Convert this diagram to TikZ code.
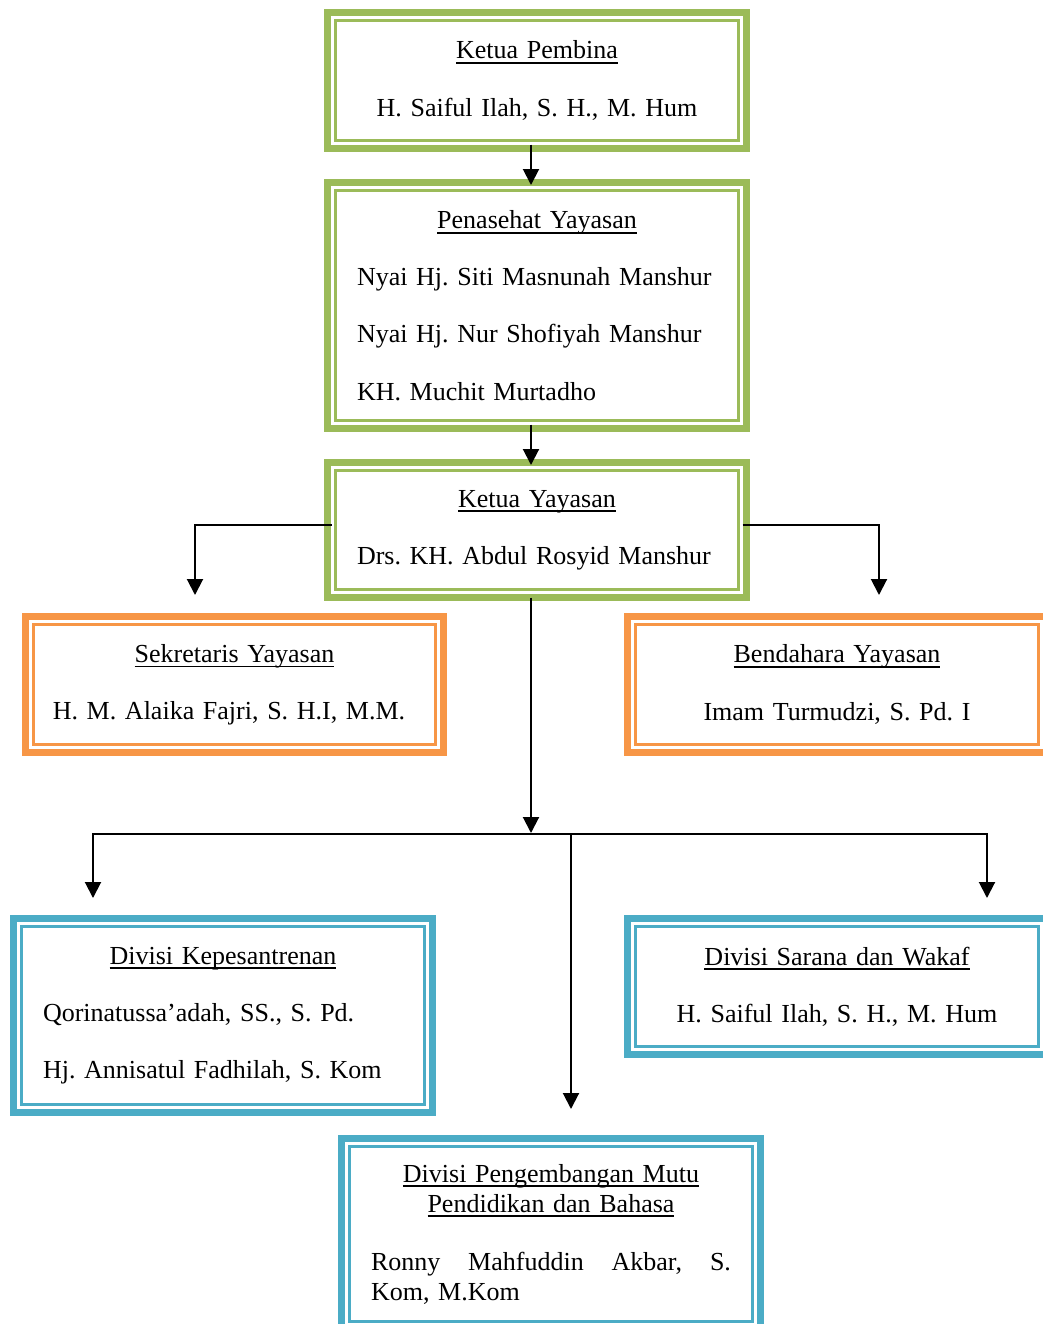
\documentclass[tikz,border=0pt]{standalone}
\usepackage{fontspec}
\setmainfont{Liberation Serif}
\usetikzlibrary{arrows.meta,calc}

\definecolor{boxgreen}{HTML}{9BBB59}
\definecolor{boxorange}{HTML}{F79646}
\definecolor{boxblue}{HTML}{4BACC6}

% underline at a fixed depth below the baseline
\newsavebox\ulinebox
\newcommand\uln[1]{\sbox\ulinebox{#1}\rlap{\rule[-2.6pt]{\wd\ulinebox}{0.9pt}}\usebox\ulinebox}
% blank line between entries
\newcommand\linegap{\\[13.65pt]}
% one unbroken left-aligned line, one centred line
\newcommand\orgleft[1]{\makebox[\hsize][l]{#1}}
\newcommand\orgctr[1]{\makebox[\hsize][c]{#1}}
% thin inner line of a thick-thin frame
\newcommand\innerframe[2]{\draw[draw=#2, line width=1.3pt]
  ($(#1.north west)+(8,8)$) rectangle ($(#1.south east)+(-8,-8)$);}

\tikzset{
  orgbox/.style={draw=#1, line width=3.5pt, inner sep=0pt, outer sep=0pt, minimum width=209.5pt,
    text width=180pt, align=left, font=\fontsize{13pt}{15pt}\selectfont\frenchspacing},
  conn/.style={line width=1pt, -{Triangle[width=8pt,length=8pt]}},
}

\begin{document}
\begin{tikzpicture}[x=0.5pt,y=-0.5pt]
\useasboundingbox (0,0) rectangle (1043,1324);
\clip (0,0) rectangle (1043,1324);

% ---- boxes ----
\node[orgbox=boxgreen, minimum height=68pt] (pembina) at (537,80.5)
  {\orgctr{\uln{Ketua Pembina}}\linegap
   \orgctr{H. Saiful Ilah, S. H., M. Hum}};
\innerframe{pembina}{boxgreen}

\node[orgbox=boxgreen, minimum height=123pt] (penasehat) at (537,305.5)
  {\orgctr{\uln{Penasehat Yayasan}}\linegap
   \orgleft{Nyai Hj. Siti Masnunah Manshur}\linegap
   \orgleft{Nyai Hj. Nur Shofiyah Manshur}\linegap
   \orgleft{KH. Muchit Murtadho}};
\innerframe{penasehat}{boxgreen}

\node[orgbox=boxgreen, minimum height=67.5pt] (ketua) at (537,530)
  {\orgctr{\uln{Ketua Yayasan}}\linegap
   \orgleft{Drs. KH. Abdul Rosyid Manshur}};
\innerframe{ketua}{boxgreen}

\node[orgbox=boxorange, minimum width=209pt, minimum height=68pt] (sekretaris) at (234.5,684.5)
  {\orgctr{\uln{Sekretaris Yayasan}}\linegap
   \orgctr{H. M. Alaika Fajri, S. H.I, M.M.\hspace*{5.5pt}}};
\innerframe{sekretaris}{boxorange}

\node[orgbox=boxorange, minimum height=68pt] (bendahara) at (837,684.5)
  {\orgctr{\uln{Bendahara Yayasan}}\linegap
   \orgctr{Imam Turmudzi, S. Pd. I}};
\innerframe{bendahara}{boxorange}

\node[orgbox=boxblue, minimum height=97pt] (pesantren) at (223,1015.5)
  {\orgctr{\uln{Divisi Kepesantrenan}}\linegap
   \orgleft{Qorinatussa’adah, SS., S. Pd.}\linegap
   \orgleft{Hj. Annisatul Fadhilah, S. Kom}};
\innerframe{pesantren}{boxblue}

\node[orgbox=boxblue, minimum height=68pt] (sarana) at (837,986.5)
  {\orgctr{\uln{Divisi Sarana dan Wakaf}}\linegap
   \orgctr{H. Saiful Ilah, S. H., M. Hum}};
\innerframe{sarana}{boxblue}

\node[orgbox=boxblue, minimum height=95.5pt] (mutu) at (551,1234)
  {\orgctr{\uln{Divisi Pengembangan Mutu}}\\
   \orgctr{\uln{Pendidikan dan Bahasa}}\\[14pt]
   \orgleft{Ronny\hfill Mahfuddin\hfill Akbar,\hfill S.}\\
   \orgleft{Kom, M.Kom}};
\innerframe{mutu}{boxblue}

% ---- connector end points ----
\coordinate (sekIn) at (195,595);
\coordinate (benIn) at (879,595);
\coordinate (hub)   at (531,833);
\coordinate (fork)  at (571,834);
\coordinate (pesIn) at (93,898);
\coordinate (sarIn) at (987,898);
\coordinate (mutuIn) at (571,1109);

% ---- connectors ----
\draw[conn] ($(pembina.south)+(-6,-4)$) -- ($(penasehat.north)+(-6,2.5)$);
\draw[conn] ($(penasehat.south)+(-6,-4)$) -- ($(ketua.north)+(-6,2.5)$);
\draw[conn] ($(ketua.west)+(4,-5)$) -| (sekIn);
\draw[conn] ($(ketua.east)+(-4,-5)$) -| (benIn);
\draw[conn] (ketua.south -| hub) -- (hub);
\draw[conn] (fork) -| (pesIn);
\draw[conn] (fork) -| (sarIn);
\draw[conn] (fork) -- (mutuIn);
\end{tikzpicture}
\end{document}
